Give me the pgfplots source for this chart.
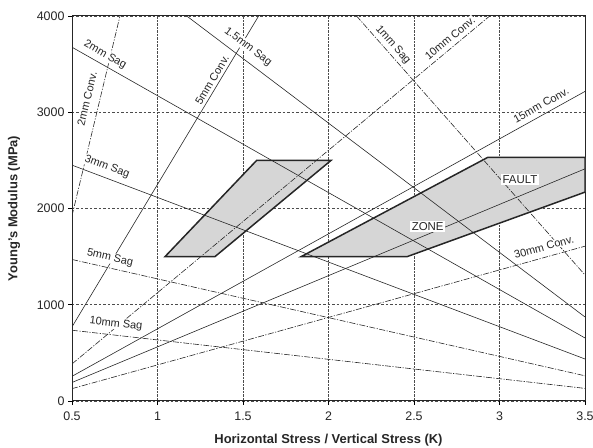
\documentclass[border=0pt]{standalone}
\usepackage{fontspec}
\setmainfont{Liberation Sans}
\usepackage{pgfplots}
\pgfplotsset{compat=1.18}
\tikzset{
  lab/.style={font=\fontsize{11}{12}\selectfont, fill=white, inner sep=0.5pt, text=black!85},
  ln/.style={black!85, line width=0.6pt},
  dd/.style={black!85, line width=0.6pt, dash pattern=on 6pt off 1.5pt on 1.2pt off 1.5pt},
}
\begin{document}
\begin{tikzpicture}[x=1bp,y=1bp]
\useasboundingbox (0,0) rectangle (593,448);
\begin{axis}[
  at={(72bp,47bp)}, anchor=south west,
  width=513bp, height=385bp, scale only axis,
  xmin=0.5, xmax=3.5, ymin=0, ymax=4000,
  xtick={0.5,1,1.5,2,2.5,3,3.5},
  ytick={0,1000,2000,3000,4000},
  /pgf/number format/assume math mode=true,
  /pgf/number format/1000 sep={},
  tick pos=left, tick align=outside,
  major tick length=4bp,
  tick style={black, line width=0.6pt},
  axis line style={black!85, line width=1pt},
  ticklabel style={font=\fontsize{12.5}{14}\selectfont, text=black!85},
  xticklabel style={yshift=-3bp},
  xmajorgrids, ymajorgrids,
  x grid style={densely dotted, line width=0.8pt, black!70},
  y grid style={dash pattern=on 2.5pt off 2pt, line width=0.7pt, black!70},
  xlabel={Horizontal Stress / Vertical Stress (K)},
  ylabel={Young's Modulus (MPa)},
  label style={font=\bfseries\fontsize{13}{15}\selectfont, text=black!85},
  xlabel style={at={(axis description cs:0.5,-0.101)}, anchor=center},
  ylabel style={at={(axis description cs:-0.113,0.5)}, anchor=center, rotate=0},
  clip=true,
]
% shaded zones
\addplot[fill=gray!32, draw=black!85, line width=1.5pt] coordinates {(1.044,1500) (1.336,1500) (2.015,2500) (1.58,2500)} -- cycle;
\addplot[fill=gray!32, draw=black!85, line width=1.5pt] coordinates {(1.84,1500) (2.46,1500) (3.5,2170) (3.5,2530) (2.93,2530)} -- cycle;

% Sag lines
\addplot[dd] coordinates {(2.164,4000) (3.5,1309)};      % 1mm
\addplot[ln] coordinates {(1.171,4000) (3.5,872.7)};     % 1.5mm
\addplot[ln] coordinates {(0.5,3675.6) (3.5,654.6)};     % 2mm
\addplot[ln] coordinates {(0.5,2450.4) (3.5,436.4)};     % 3mm
\addplot[dd] coordinates {(0.5,1470.2) (3.5,261.8)};     % 5mm
\addplot[dd] coordinates {(0.5,735.1) (3.5,130.9)};      % 10mm

% Convergence lines
\addplot[dd] coordinates {(0.5,1924) (0.7805,4000)};     % 2mm
\addplot[ln] coordinates {(0.5,770) (1.5914,4000)};      % 5mm
\addplot[dd] coordinates {(0.5,385) (2.9427,4000)};      % 10mm
\addplot[ln] coordinates {(0.5,256.5) (3.5,3216.5)};     % 15mm
\addplot[ln] coordinates {(0.5,192.4) (3.5,2412.4)};     % 20mm
\addplot[dd] coordinates {(0.5,128.3) (3.5,1608.3)};     % 30mm

% labels
\node[lab, rotate=-29.5] at (axis cs:0.693,3595) {2mm Sag};
\node[lab, rotate=-37.1] at (axis cs:1.529,3678) {1.5mm Sag};
\node[lab, rotate=-48.6] at (axis cs:2.377,3700) {1mm Sag};
\node[lab, rotate=-20.7] at (axis cs:0.705,2431) {3mm Sag};
\node[lab, rotate=-12.8] at (axis cs:0.722,1486) {5mm Sag};
\node[lab, rotate=-6.5] at (axis cs:0.757,800) {10mm Sag};
\node[lab, rotate=76.5] at (axis cs:0.588,3138) {2mm Conv.};
\node[lab, rotate=59.0] at (axis cs:1.319,3335) {5mm Conv.};
\node[lab, rotate=39.8] at (axis cs:2.71,3771) {10mm Conv.};
\node[lab, rotate=29.0] at (axis cs:3.243,3075) {15mm Conv.};
\node[lab, rotate=15.5] at (axis cs:3.26,1600) {30mm Conv.};
\node[lab, inner sep=1.5pt, font=\fontsize{11.5}{13}\selectfont] at (axis cs:3.12,2300) {FAULT};
\node[lab, inner sep=1.5pt, font=\fontsize{11.5}{13}\selectfont] at (axis cs:2.58,1812) {ZONE};
\end{axis}
\end{tikzpicture}
\end{document}
